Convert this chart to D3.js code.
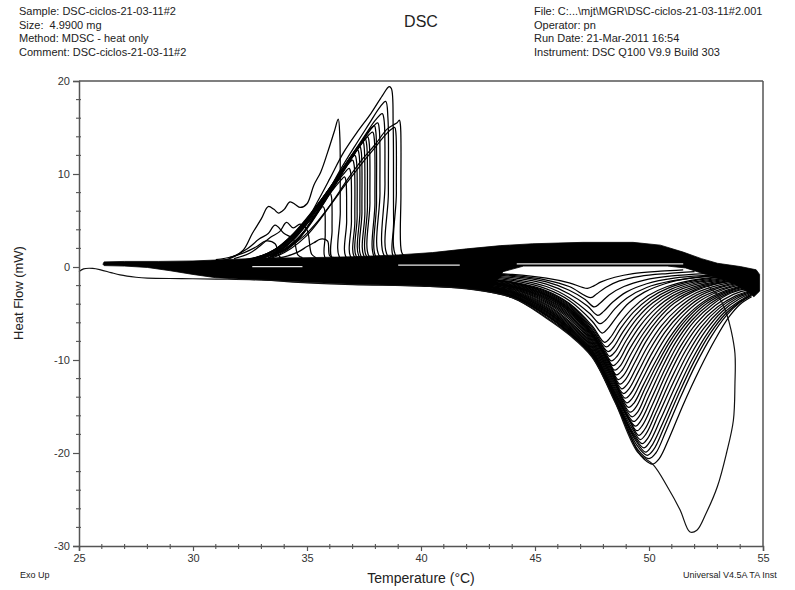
<!DOCTYPE html>
<html><head><meta charset="utf-8">
<script src="https://cdn.jsdelivr.net/npm/d3@7"></script>
<style>body{margin:0;background:#fff} svg{display:block} text{font-family:Arial,"Liberation Sans",sans-serif;white-space:pre}</style>
</head><body><svg id="c" width="795" height="590"></svg>
<script>
// ---------- text ----------
const headerLeft = ["Sample: DSC-ciclos-21-03-11#2","Size:  4.9900 mg","Method: MDSC - heat only","Comment: DSC-ciclos-21-03-11#2"];
const headerRight = ["File: C:...\\mjt\\MGR\\DSC-ciclos-21-03-11#2.001","Operator: pn","Run Date: 21-Mar-2011 16:54","Instrument: DSC Q100 V9.9 Build 303"];
const title = "DSC";
const xLabel = "Temperature (°C)";
const yLabel = "Heat Flow (mW)";
const footLeft = "Exo Up";
const footRight = "Universal V4.5A TA Inst";
const xTicks = [25,30,35,40,45,50,55];
const yTicks = [20,10,0,-10,-20,-30];
const xMinor = [26,27,28,29,31,32,33,34,36,37,38,39,41,42,43,44,46,47,48,49,51,52,53,54];
const yMinor = [18,16,14,12,8,6,4,2,-2,-4,-6,-8,-12,-14,-16,-18,-22,-24,-26,-28];

// ---------- data: dense overlapping baseline band (outline) ----------
const bandTopPts = [[26.05,0.3],[26.1,0.55],[27,0.6],[28.5,0.6],[30,0.65],[31.5,0.8],[33,0.95],[35,1.0],[37,1.1],[39,1.3],[40.5,1.55],[42,1.95],[43.5,2.3],[44.9,2.5],[47.1,2.65],[49.3,2.65],[50.5,2.35],[51.5,1.6],[52.3,0.9],[53,0.4],[54,0.05],[54.7,-0.3],[54.85,-0.8]];
const bandBottomPts = [[54.85,-2.6],[54.6,-3.2],[54.3,-2.6],[53.5,-1.5],[52.5,-0.8],[51.6,-0.1],[50.8,0.1],[44.5,0.1],[43.6,-0.5],[43.0,-2.5],[42,-2.3],[40,-2.05],[37,-1.85],[35,-1.65],[33,-1.4],[32,-1.3],[31,-1.15],[30,-0.8],[29,-0.4],[28,-0.05],[27,0.1],[26.1,0.15]];
const gapLines = [
  [[44.2,0.33],[51.5,0.33]],
  [[39.0,0.2],[41.7,0.2]],
  [[32.6,0.03],[34.8,0.03]]
];

// ---------- data: first heating run (starts at 25 °C, big loop) ----------
const firstHeat = [[25.0,-0.5],[25.2,-0.2],[25.6,-0.15],[25.95,-0.3],[26.4,-0.6],[26.8,-0.85],[27.5,-1.1],[28.0,-1.2],[29.5,-1.25],[31,-1.3],[33,-1.4],[35,-1.7],[37,-1.9],[40,-2.05],[42,-2.35],[44,-3.3],[45.5,-5.5],[46.5,-7.3],[47.5,-9.7],[48.5,-14.5],[49.5,-19.9],[50.2,-21.3],[50.8,-23.6],[51.36,-26.1],[51.8,-28.5],[52.1,-28.3],[52.5,-26.5],[53.0,-23.6],[53.4,-20],[53.7,-16.5],[53.77,-12.5],[53.77,-9.3],[53.6,-6.8],[53.4,-5.0],[53.2,-3.8],[53.0,-3.0],[52.7,-2.3],[52.4,-1.6]];

// ---------- data: heating runs (endotherms) ----------
const heatRuns = [
 [[40,-0.45],[42,-0.6],[44,-0.8],[45.5,-1.2],[46.5,-1.7],[47.3,-2.3],[47.6,-2.0],[47.9,-1.6],[48.5,-1.1],[49.3,-0.7],[50.5,-0.45],[51.5,-0.3]],
 [[40,-0.5],[42,-0.67],[44,-0.9],[45.5,-1.4],[46.5,-2.1],[47.45,-3.3],[47.7,-2.9],[48.1,-2.2],[48.7,-1.5],[49.6,-1.0],[50.8,-0.7],[52,-0.5]],
 [[40,-0.57],[42,-0.74],[44,-1.0],[45.5,-1.6],[46.5,-2.5],[47.2,-3.5],[47.6,-4.3],[47.85,-3.9],[48.25,-3.0],[48.9,-2.1],[49.8,-1.4],[51,-0.95],[52.5,-0.7]],
 [[40,-0.63],[42,-0.8],[44,-1.15],[45.5,-1.85],[46.5,-2.9],[47.3,-4.2],[47.75,-5.2],[48.0,-4.8],[48.4,-3.8],[49.0,-2.7],[49.9,-1.8],[51.1,-1.2],[52.6,-0.9],[54,-0.75]],
 [[40,-0.7],[42,-0.87],[44,-1.3],[45.5,-2.1],[46.5,-3.3],[47.4,-5.0],[47.85,-6.1],[48.1,-5.7],[48.5,-4.5],[49.05,-3.3],[49.9,-2.2],[51.0,-1.5],[52.4,-1.05],[54.2,-0.8]],
 [[40,-0.75],[42,-0.95],[44,-1.45],[45.5,-2.35],[46.5,-3.6],[47.5,-5.8],[47.95,-7.1],[48.2,-6.6],[48.6,-5.3],[49.1,-3.9],[49.8,-2.7],[50.7,-1.8],[51.8,-1.2],[53,-0.9],[54.3,-0.8]],
 [[40,-0.82],[42,-1.05],[44,-1.6],[45.5,-2.55],[46.5,-3.9],[47.5,-6.3],[48.05,-8.1],[48.3,-7.6],[48.7,-6.1],[49.25,-4.5],[49.95,-3.1],[50.8,-2.1],[51.9,-1.4],[53.1,-1.05],[54.4,-0.9]],
 [[40,-0.85],[42,-1.1],[44,-1.65],[45.5,-2.65],[46.5,-4.0],[47.5,-6.5],[48.12,-8.6],[48.37,-8.1],[48.77,-6.55],[49.32,-4.85],[50.02,-3.35],[50.87,-2.25],[51.95,-1.5],[53.15,-1.12],[54.45,-0.95]],
 [[40,-0.88],[42,-1.15],[44,-1.7],[45.5,-2.75],[46.5,-4.15],[47.5,-6.7],[48.2,-9.1],[48.45,-8.6],[48.85,-7.0],[49.4,-5.2],[50.1,-3.6],[50.95,-2.4],[52.0,-1.6],[53.2,-1.2],[54.5,-1.0]],
 [[40,-0.92],[42,-1.2],[44,-1.77],[45.5,-2.85],[46.5,-4.27],[47.5,-6.85],[48.05,-8.9],[48.27,-9.6],[48.52,-9.1],[48.92,-7.45],[49.47,-5.55],[50.17,-3.85],[51.0,-2.6],[52.05,-1.72],[53.25,-1.28],[54.5,-1.05]],
 [[40,-0.95],[42,-1.25],[44,-1.85],[45.5,-2.95],[46.5,-4.4],[47.5,-7.0],[48.1,-9.3],[48.35,-10.1],[48.6,-9.6],[49.0,-7.9],[49.55,-5.9],[50.25,-4.1],[51.05,-2.8],[52.1,-1.85],[53.3,-1.35],[54.5,-1.1]],
 [[40,-0.98],[42,-1.3],[44,-1.92],[45.5,-3.02],[46.5,-4.5],[47.5,-7.1],[48.15,-9.65],[48.42,-10.6],[48.67,-10.1],[49.07,-8.35],[49.62,-6.3],[50.3,-4.45],[51.07,-3.05],[52.1,-2.02],[53.3,-1.45],[54.5,-1.15]],
 [[40,-1.02],[42,-1.35],[44,-2.0],[45.5,-3.1],[46.5,-4.6],[47.5,-7.2],[48.2,-10.0],[48.5,-11.1],[48.75,-10.6],[49.15,-8.8],[49.7,-6.7],[50.35,-4.8],[51.1,-3.3],[52.1,-2.2],[53.3,-1.55],[54.5,-1.2]],
 [[40,-1.06],[42,-1.4],[44,-2.05],[45.5,-3.2],[46.5,-4.7],[47.5,-7.3],[48.25,-10.3],[48.57,-11.6],[48.82,-11.1],[49.22,-9.3],[49.75,-7.15],[50.37,-5.2],[51.1,-3.6],[52.05,-2.4],[53.15,-1.68],[54.25,-1.3],[54.5,-1.25]],
 [[40,-1.1],[42,-1.45],[44,-2.1],[45.5,-3.3],[46.5,-4.8],[47.5,-7.4],[48.3,-10.6],[48.65,-12.1],[48.9,-11.6],[49.3,-9.8],[49.8,-7.6],[50.4,-5.6],[51.1,-3.9],[52.0,-2.6],[53.0,-1.8],[54.0,-1.4],[54.5,-1.3]],
 [[40,-1.13],[42,-1.5],[44,-2.15],[45.5,-3.4],[46.5,-4.95],[47.5,-7.55],[48.3,-10.8],[48.72,-12.6],[48.97,-12.1],[49.37,-10.3],[49.87,-8.0],[50.47,-5.9],[51.17,-4.2],[52.05,-2.8],[53.05,-1.95],[54.0,-1.5],[54.5,-1.4]],
 [[40,-1.17],[42,-1.55],[44,-2.2],[45.5,-3.5],[46.5,-5.1],[47.5,-7.7],[48.3,-11.0],[48.8,-13.1],[49.05,-12.6],[49.45,-10.8],[49.95,-8.5],[50.55,-6.3],[51.25,-4.5],[52.1,-3.0],[53.1,-2.1],[54.0,-1.6],[54.5,-1.5]],
 [[40,-1.21],[42,-1.6],[44,-2.27],[45.5,-3.62],[46.5,-5.25],[47.5,-7.85],[48.35,-11.4],[48.87,-13.6],[49.12,-13.1],[49.52,-11.3],[50.02,-8.95],[50.62,-6.65],[51.32,-4.75],[52.15,-3.2],[53.15,-2.2],[54.0,-1.7],[54.5,-1.55]],
 [[40,-1.25],[42,-1.65],[44,-2.35],[45.5,-3.75],[46.5,-5.4],[47.5,-8.0],[48.4,-11.8],[48.95,-14.1],[49.2,-13.6],[49.6,-11.8],[50.1,-9.4],[50.7,-7.0],[51.4,-5.0],[52.2,-3.4],[53.2,-2.35],[54.0,-1.8],[54.5,-1.65]],
 [[40,-1.28],[42,-1.7],[44,-2.42],[45.5,-3.87],[46.5,-5.6],[47.5,-8.15],[48.45,-12.2],[49.02,-14.6],[49.27,-14.1],[49.67,-12.25],[50.2,-9.75],[50.8,-7.3],[51.5,-5.2],[52.3,-3.55],[53.25,-2.45],[54.05,-1.9],[54.5,-1.72]],
 [[40,-1.32],[42,-1.75],[44,-2.5],[45.5,-4.0],[46.5,-5.8],[47.5,-8.3],[48.5,-12.6],[49.1,-15.1],[49.35,-14.6],[49.75,-12.7],[50.3,-10.1],[50.9,-7.6],[51.6,-5.4],[52.4,-3.7],[53.3,-2.6],[54.1,-2.0],[54.5,-1.8]],
 [[40,-1.36],[42,-1.8],[44,-2.57],[45.5,-4.12],[46.5,-5.95],[47.5,-8.45],[48.5,-12.8],[49.17,-15.6],[49.42,-15.1],[49.82,-13.1],[50.37,-10.4],[50.97,-7.8],[51.67,-5.55],[52.47,-3.8],[53.35,-2.68],[54.15,-2.05],[54.5,-1.9]],
 [[40,-1.4],[42,-1.85],[44,-2.65],[45.5,-4.25],[46.5,-6.1],[47.5,-8.6],[48.5,-13.0],[49.25,-16.1],[49.5,-15.6],[49.9,-13.5],[50.45,-10.7],[51.05,-8.0],[51.75,-5.7],[52.55,-3.9],[53.4,-2.75],[54.2,-2.1],[54.5,-2.0]],
 [[40,-1.42],[42,-1.87],[44,-2.7],[45.5,-4.37],[46.5,-6.25],[47.5,-8.75],[48.5,-13.2],[49.32,-16.6],[49.57,-16.05],[50.0,-13.85],[50.57,-10.85],[51.17,-8.1],[51.87,-5.75],[52.67,-3.95],[53.5,-2.78],[54.35,-2.15],[54.5,-2.1]],
 [[40,-1.45],[42,-1.9],[44,-2.75],[45.5,-4.5],[46.5,-6.4],[47.5,-8.9],[48.5,-13.4],[49.4,-17.1],[49.65,-16.5],[50.1,-14.2],[50.7,-11],[51.3,-8.2],[52.0,-5.8],[52.8,-4.0],[53.6,-2.8],[54.5,-2.2]],
 [[40,-1.48],[42,-1.95],[44,-2.8],[45.5,-4.6],[46.5,-6.5],[47.5,-9.0],[48.5,-13.55],[49.1,-16.3],[49.47,-17.6],[49.72,-17.0],[50.17,-14.7],[50.77,-11.4],[51.4,-8.45],[52.1,-6.0],[52.9,-4.15],[53.7,-2.95],[54.5,-2.35]],
 [[40,-1.52],[42,-2.0],[44,-2.85],[45.5,-4.7],[46.5,-6.6],[47.5,-9.1],[48.5,-13.7],[49.2,-16.8],[49.55,-18.1],[49.8,-17.5],[50.25,-15.2],[50.85,-11.8],[51.5,-8.7],[52.2,-6.2],[53.0,-4.3],[53.8,-3.1],[54.5,-2.5]],
 [[40,-1.56],[42,-2.05],[44,-2.92],[45.5,-4.8],[46.5,-6.7],[47.5,-9.2],[48.5,-13.85],[49.25,-17.3],[49.62,-18.55],[49.87,-17.95],[50.32,-15.6],[50.95,-12.15],[51.6,-9.0],[52.3,-6.4],[53.07,-4.45],[53.85,-3.2],[54.5,-2.6]],
 [[40,-1.6],[42,-2.1],[44,-3.0],[45.5,-4.9],[46.5,-6.8],[47.5,-9.3],[48.5,-14.0],[49.3,-17.8],[49.7,-19.0],[49.95,-18.4],[50.4,-16.0],[51.05,-12.5],[51.7,-9.3],[52.4,-6.6],[53.15,-4.6],[53.9,-3.3],[54.5,-2.7]],
 [[40,-1.63],[42,-2.13],[44,-3.05],[45.5,-5.0],[46.5,-6.9],[47.5,-9.38],[48.5,-14.1],[49.35,-18.2],[49.77,-19.45],[50.02,-18.85],[50.5,-16.4],[51.15,-12.85],[51.8,-9.6],[52.5,-6.8],[53.22,-4.75],[53.95,-3.45],[54.5,-2.8]],
 [[40,-1.67],[42,-2.17],[44,-3.1],[45.5,-5.1],[46.5,-7.0],[47.5,-9.45],[48.5,-14.2],[49.4,-18.6],[49.85,-19.9],[50.1,-19.3],[50.6,-16.8],[51.25,-13.2],[51.9,-9.9],[52.6,-7.0],[53.3,-4.9],[54.0,-3.6],[54.5,-2.9]],
 [[40,-1.7],[42,-2.2],[44,-3.15],[45.5,-5.17],[46.5,-7.05],[47.5,-9.5],[48.5,-14.25],[49.45,-19.1],[49.92,-20.25],[50.2,-19.65],[50.67,-17.2],[51.32,-13.55],[51.97,-10.2],[52.67,-7.2],[53.35,-5.05],[54.0,-3.7],[54.5,-2.98]],
 [[40,-1.73],[42,-2.23],[44,-3.2],[45.5,-5.25],[46.5,-7.1],[47.5,-9.55],[48.5,-14.3],[49.5,-19.6],[50.0,-20.6],[50.3,-20.0],[50.75,-17.6],[51.4,-13.9],[52.05,-10.5],[52.75,-7.4],[53.4,-5.2],[54.0,-3.8],[54.5,-3.05]],
 [[40,-1.8],[42,-2.3],[44,-3.3],[45.5,-5.4],[46.5,-7.2],[47.5,-9.6],[48.5,-14.4],[49.5,-19.8],[49.8,-20.7],[50.15,-21.2],[50.45,-20.6],[50.9,-18.3],[51.5,-14.8],[52.2,-11.1],[52.9,-7.8],[53.5,-5.4],[54.0,-4.0],[54.5,-3.2]]
];

// ---------- data: cooling runs (exotherms), listed in the direction of cooling ----------
const coolRuns = [
 [[40,1.0],[38.85,0.9],[38.8,5],[38.78,15],[38.7,19.2],[38.6,19.4],[38.3,18.4],[37.8,16.5],[37.2,14.5],[36.6,12.3],[36.0,9.5],[35.5,7.2],[35.0,5.0],[34.4,3.0],[33.8,1.8],[33.0,0.9],[32.0,0.6]],
 [[40,1.0],[39.3,1.1],[39.15,1.6],[39.12,8],[39.1,15.2],[39.05,15.8],[38.95,15.5],[38.8,15.3],[38.5,14.8],[38.0,13.2],[37.4,11.5],[36.8,9.5],[36.2,7.3],[35.6,5.2],[35.0,3.4],[34.3,2.0],[33.5,1.0],[32.5,0.6]],
 [[40,1.1],[38.95,1.05],[38.92,8],[38.9,14.4],[38.85,15.0],[38.7,14.8],[38.4,14.1],[37.9,12.6],[37.3,10.8],[36.7,8.9],[36.1,6.9],[35.5,5.0],[34.9,3.4],[34.2,2.1],[33.4,1.1]],
 [[40,1.0],[38.6,1.0],[38.57,8],[38.55,16],[38.45,17.8],[38.2,17.2],[37.7,15.3],[37.1,13],[36.5,10.6],[36.0,8.4],[35.5,6.2],[35.0,4.2],[34.5,2.6],[33.8,1.4],[33.0,0.8]],
 [[39.5,1.0],[38.45,1.0],[38.42,9],[38.38,15.8],[38.3,16.5],[38.0,15.8],[37.5,14.0],[36.9,11.8],[36.3,9.5],[35.8,7.4],[35.3,5.4],[34.8,3.6],[34.2,2.2],[33.5,1.2]],
 [[39.5,1.0],[38.23,1.0],[38.2,8],[38.17,14.8],[38.1,15.5],[37.8,14.8],[37.3,13.0],[36.7,10.8],[36.2,8.8],[35.7,6.8],[35.2,4.9],[34.7,3.3],[34.1,2.0],[33.4,1.1]],
 [[39,1.0],[38.07,0.95],[38.05,7],[38.02,14.5],[37.95,15.2],[37.7,14.6],[37.2,12.7],[36.7,10.7],[36.2,8.7],[35.7,6.7],[35.2,4.8],[34.7,3.2],[34.1,2.0],[33.4,1.05]],
 [[39,1.0],[38.0,0.95],[37.98,7],[37.95,13.8],[37.88,14.5],[37.6,13.9],[37.1,12.2],[36.6,10.3],[36.1,8.3],[35.6,6.4],[35.1,4.6],[34.6,3.1],[34.0,1.9],[33.3,1.0]],
 [[39,0.95],[37.78,0.95],[37.76,7],[37.73,13.3],[37.66,14.0],[37.4,13.3],[36.9,11.6],[36.4,9.7],[35.9,7.8],[35.4,6.0],[34.9,4.3],[34.4,2.9],[33.8,1.7],[33.1,1.0]],
 [[38.9,0.95],[37.67,0.95],[37.65,6.5],[37.62,13.1],[37.55,13.8],[37.3,13.1],[36.8,11.4],[36.3,9.5],[35.8,7.6],[35.3,5.8],[34.8,4.15],[34.3,2.75],[33.7,1.6],[33.0,0.95]],
 [[38.8,0.95],[37.56,0.95],[37.54,6],[37.51,12.8],[37.45,13.5],[37.2,12.8],[36.7,11.1],[36.2,9.2],[35.7,7.4],[35.2,5.6],[34.7,4.0],[34.2,2.6],[33.6,1.5],[32.9,0.9]],
 [[38.6,0.95],[37.43,0.95],[37.41,6],[37.38,12.4],[37.31,13.0],[37.05,12.3],[36.6,10.7],[36.1,8.85],[35.6,7.1],[35.1,5.35],[34.6,3.8],[34.1,2.5],[33.5,1.45],[32.8,0.9]],
 [[38.5,0.95],[37.34,0.95],[37.32,6],[37.29,12],[37.22,12.6],[36.95,11.9],[36.5,10.3],[36.0,8.5],[35.5,6.8],[35.0,5.1],[34.5,3.6],[34.0,2.4],[33.4,1.4],[32.7,0.9]],
 [[38.4,0.95],[37.22,0.95],[37.2,5.5],[37.17,11.4],[37.1,12.0],[36.85,11.4],[36.4,9.85],[35.9,8.1],[35.4,6.5],[34.9,4.9],[34.4,3.45],[33.9,2.3],[33.3,1.35],[32.6,0.85]],
 [[38.3,0.95],[37.12,0.95],[37.1,5],[37.07,10.9],[37.0,11.5],[36.75,10.9],[36.3,9.4],[35.8,7.8],[35.3,6.2],[34.8,4.7],[34.3,3.3],[33.8,2.2],[33.2,1.3],[32.5,0.85]],
 [[38.2,0.9],[36.97,0.9],[36.95,5],[36.92,10.1],[36.85,10.6],[36.6,10.0],[36.15,8.6],[35.65,7.1],[35.15,5.6],[34.65,4.2],[34.15,3.0],[33.6,1.9],[33.0,1.1]],
 [[38,0.9],[36.76,0.9],[36.74,5],[36.71,9.2],[36.65,9.7],[36.4,9.1],[36.0,7.9],[35.5,6.4],[35.0,5.0],[34.5,3.7],[34.0,2.6],[33.5,1.7],[32.8,1.0]],
 [[38.0,0.9],[36.5,0.8],[36.46,6],[36.44,14],[36.37,15.9],[36.2,14.6],[35.9,12.3],[35.6,10.2],[35.3,8.8],[35.0,6.8],[34.7,6.4],[34.5,6.7],[34.25,7.0],[34.0,6.2],[33.75,5.8],[33.55,6.2],[33.3,6.5],[33.0,5.2],[32.6,3.6],[32.2,1.8],[31.6,0.9],[30.8,0.6]],
 [[37.2,0.9],[36.12,0.9],[36.1,4],[36.07,7.6],[36.0,8.0],[35.8,7.5],[35.4,6.2],[34.9,4.7],[34.4,3.4],[33.9,2.3],[33.3,1.5],[32.6,0.9]],
 [[36.8,0.9],[35.82,0.9],[35.8,3.5],[35.77,6.2],[35.7,6.5],[35.5,6.0],[35.1,4.9],[34.6,3.7],[34.1,2.7],[33.6,1.9],[33.0,1.2],[32.3,0.8]],
 [[36.3,1.0],[36.0,1.2],[35.9,2.8],[35.6,3.0],[35.3,2.6],[35.0,2.2],[34.6,1.6],[34.0,1.1],[33,0.8]],
 [[35.4,1.0],[35.2,1.4],[35.0,4.0],[34.7,4.6],[34.4,4.2],[34.1,4.8],[33.8,3.8],[33.4,3.2],[33.0,2.4],[32.5,1.5],[31.8,0.9]],
 [[34.8,1.0],[34.6,1.3],[34.4,3.0],[34.0,3.6],[33.6,4.5],[33.3,3.6],[32.9,3.0],[32.4,2.0],[31.7,1.1],[31.0,0.8]],
 [[34.0,0.9],[33.8,1.1],[33.6,2.5],[33.2,2.8],[32.8,2.2],[32.3,1.6],[31.6,1.0]]
];

// ---------- drawing ----------
const svg = d3.select("#c");
const x = d3.scaleLinear().domain([25,55]).range([79,763]);
const y = d3.scaleLinear().domain([-30,20]).range([546,81]);

const line = d3.line().x(d=>x(d[0])).y(d=>y(d[1])).curve(d3.curveCatmullRom.alpha(0.5));
const straight = d3.line().x(d=>x(d[0])).y(d=>y(d[1]));
const closed = d3.line().x(d=>x(d[0])).y(d=>y(d[1])).curve(d3.curveLinearClosed);

const plot = svg.append("g");
plot.append("path").attr("d", closed(bandTopPts.concat(bandBottomPts))).attr("fill","#000").attr("stroke","#000").attr("stroke-width",0.8);
plot.selectAll("path.heat").data(heatRuns).join("path").attr("class","heat")
  .attr("d", line).attr("fill","none").attr("stroke","#000").attr("stroke-width",1.25);
plot.append("path").attr("d", line(firstHeat)).attr("fill","none").attr("stroke","#111").attr("stroke-width",1.2);
plot.selectAll("path.cool").data(coolRuns).join("path").attr("class","cool")
  .attr("d", line).attr("fill","none").attr("stroke","#000").attr("stroke-width",1.25);
plot.selectAll("path.gap").data(gapLines).join("path").attr("class","gap")
  .attr("d", straight).attr("fill","none").attr("stroke","#e8e8e8").attr("stroke-width",1.3);

// frame
const axisColor = "#555";
svg.append("line").attr("x1",x(25)).attr("x2",x(55)).attr("y1",y(20)).attr("y2",y(20)).attr("stroke",axisColor).attr("stroke-width",1.5);
svg.append("line").attr("x1",x(55)).attr("x2",x(55)).attr("y1",y(20)).attr("y2",y(-30)).attr("stroke",axisColor).attr("stroke-width",1.5);

// axes
const fmt = d => String(d);
const gx = svg.append("g").attr("transform",`translate(0,${y(-30)})`)
  .call(d3.axisBottom(x).tickValues(xTicks).tickSize(5).tickPadding(3).tickFormat(fmt));
const gy = svg.append("g").attr("transform",`translate(${x(25)},0)`)
  .call(d3.axisLeft(y).tickValues(yTicks).tickSize(6).tickPadding(3).tickFormat(fmt));
[gx,gy].forEach(g=>{
  g.select(".domain").attr("stroke",axisColor).attr("stroke-width",1.5);
  g.selectAll(".tick line").attr("stroke",axisColor).attr("stroke-width",1.2);
  g.selectAll(".tick text").attr("fill","#333").style("font-size","11px").style("font-family","Arial, 'Liberation Sans', sans-serif");
});
svg.append("g").selectAll("line").data(xMinor).join("line")
  .attr("x1",d=>x(d)).attr("x2",d=>x(d)).attr("y1",y(-30)-2).attr("y2",y(-30)+3)
  .attr("stroke",axisColor).attr("stroke-width",1.1);
svg.append("g").selectAll("line").data(yMinor).join("line")
  .attr("x1",x(25)-3).attr("x2",x(25)+2).attr("y1",d=>y(d)).attr("y2",d=>y(d))
  .attr("stroke",axisColor).attr("stroke-width",1.1);

// header text
const hdr = svg.append("g").attr("fill","#222").style("font-size","11px");
hdr.selectAll("text.l").data(headerLeft).join("text").attr("class","l")
  .attr("x",19).attr("y",(d,i)=>15+i*13.6).text(d=>d);
hdr.selectAll("text.r").data(headerRight).join("text").attr("class","r")
  .attr("x",534).attr("y",(d,i)=>15+i*13.6).text(d=>d);
svg.append("text").attr("x",421).attr("y",27).attr("text-anchor","middle").attr("fill","#222").style("font-size","16px").text(title);

// axis titles and footers
svg.append("text").attr("x",421).attr("y",583).attr("text-anchor","middle").attr("fill","#222").style("font-size","14px").text(xLabel);
svg.append("text").attr("transform","translate(23,293) rotate(-90)").attr("text-anchor","middle").attr("fill","#222").style("font-size","13px").text(yLabel);
svg.append("text").attr("x",20).attr("y",578).attr("fill","#222").style("font-size","9px").text(footLeft);
svg.append("text").attr("x",683).attr("y",578).attr("fill","#222").style("font-size","9px").text(footRight);
</script></body></html>
